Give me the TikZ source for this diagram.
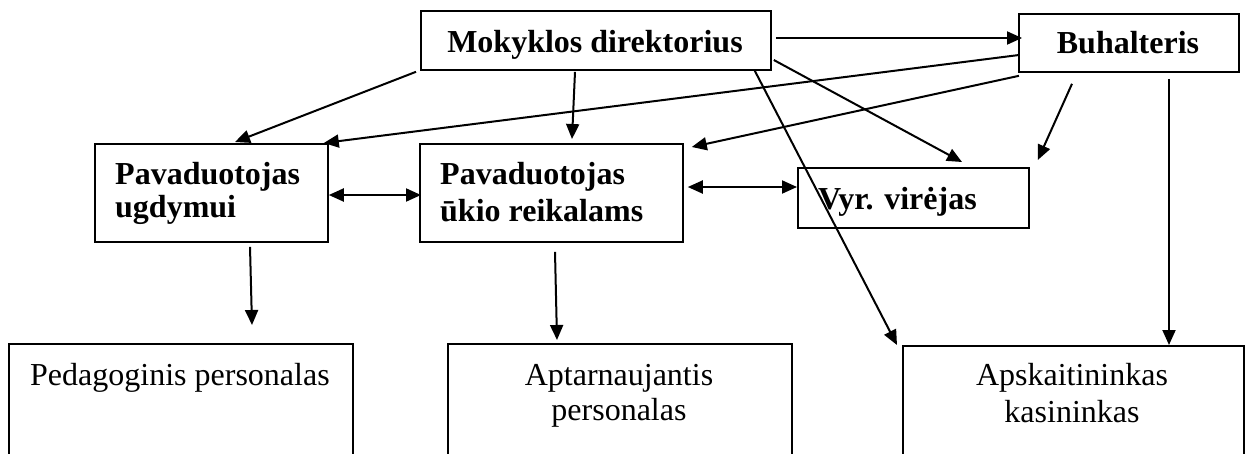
\documentclass[tikz,border=0pt]{standalone}
\usepackage{fontspec}
\setmainfont{Liberation Serif}
\usetikzlibrary{arrows.meta,calc}
\begin{document}
\begin{tikzpicture}[x=1pt,y=-1pt,
  box/.style={draw,line width=1.8pt,inner sep=0pt,anchor=north west},
  lbl/.style={inner sep=0pt,font=\fontsize{32}{37}\selectfont\bfseries},
  rlbl/.style={inner sep=0pt,font=\fontsize{32}{37}\selectfont},
  arr/.style={line width=2pt,-{Triangle[length=15pt,width=13pt]}},
  darr/.style={line width=2pt,{Triangle[length=15pt,width=13pt]}-{Triangle[length=15pt,width=13pt]}}]
\useasboundingbox[fill=white] (0,0) rectangle (1248,453);
% boxes
\node[box,minimum width=350pt,minimum height=59pt] (dir) at (420,10) {};
\node[box,minimum width=220pt,minimum height=58pt] (buh) at (1018,13) {};
\node[box,minimum width=233pt,minimum height=98pt] (pu) at (94,143) {};
\node[box,minimum width=263pt,minimum height=98pt] (pk) at (419,143) {};
\node[box,minimum width=231pt,minimum height=60pt] (vv) at (797,167) {};
\node[box,minimum width=344pt,minimum height=130pt] (ped) at (8,343) {};
\node[box,minimum width=344pt,minimum height=130pt] (apt) at (447,343) {};
\node[box,minimum width=341pt,minimum height=130pt] (apsk) at (902,345) {};
% labels
\node[lbl,anchor=base] (tdir) at (595,52) {Mokyklos direktorius};
\node[lbl,anchor=base] (tbuh) at (1128,53) {Buhalteris};
\node[lbl,anchor=base west] (tpu1) at (115,184) {Pavaduotojas};
\node[lbl,anchor=base west] (tpu2) at (115,217) {ugdymui};
\node[lbl,anchor=base west] (tpk1) at (440,184) {Pavaduotojas};
\node[lbl,anchor=base west] (tpk2) at (440,221) {ūkio reikalams};
\node[lbl,anchor=base west] (tvv) at (818,209) {Vyr. virėjas};
\node[rlbl,anchor=base west] (tped) at (30,385) {Pedagoginis personalas};
\node[rlbl,anchor=base] (tapt1) at (619,385) {Aptarnaujantis};
\node[rlbl,anchor=base] (tapt2) at (619,420) {personalas};
\node[rlbl,anchor=base] (tapsk1) at (1072,385) {Apskaitininkas};
\node[rlbl,anchor=base] (tapsk2) at (1072,422) {kasininkas};
% connectors
\draw[arr] ($(dir.south west)+(-4,1)$) -- ($(pu.north west)+(141,-1)$);
\draw[arr] ($(dir.south west)+(155,1)$) -- ($(pk.north west)+(153,-4)$);
\draw[arr] ($(dir.north east)+(4,28)$) -- ($(buh.north west)+(4,25)$);
\draw[arr] ($(dir.north east)+(2,50)$) -- ($(vv.north west)+(165,-5)$);
\draw[arr] ($(dir.south east)+(-17,0)$) -- ($(apsk.north west)+(-5,0)$);
\draw[arr] ($(buh.north west)+(1,42)$) -- ($(pu.north east)+(-5,0)$);
\draw[arr] ($(buh.south west)+(1,3)$) -- ($(pk.north east)+(8,4)$);
\draw[arr] ($(buh.south west)+(54,11)$) -- ($(vv.north east)+(8,-7)$);
\draw[arr] ($(buh.south west)+(151,6)$) -- ($(apsk.north west)+(267,0)$);
\draw[darr] ($(pu.north east)+(0,52)$) -- ($(pk.north west)+(2,52)$);
\draw[darr] ($(pk.north east)+(4,44)$) -- ($(vv.north west)+(0,20)$);
\draw[arr] ($(pu.south west)+(156,4)$) -- ($(ped.north west)+(244,-18)$);
\draw[arr] ($(pk.south west)+(136,9)$) -- ($(apt.north west)+(110,-3)$);
\end{tikzpicture}
\end{document}
